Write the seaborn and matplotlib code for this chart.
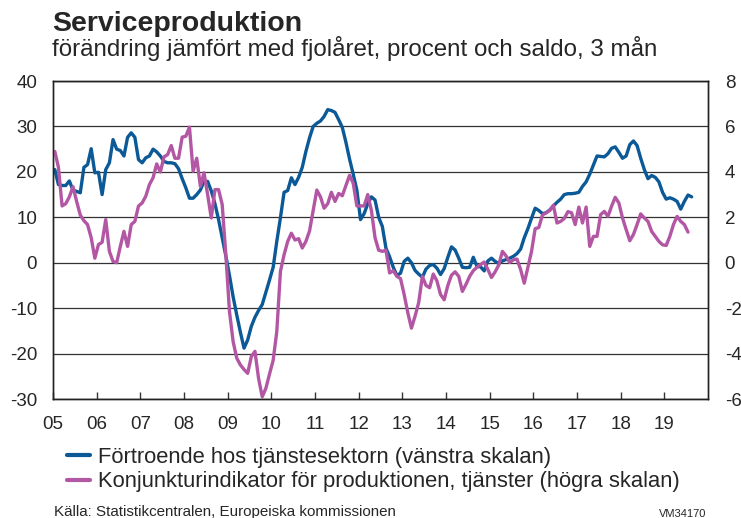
import numpy as np
import pandas as pd
import seaborn as sns
import matplotlib.pyplot as plt
from matplotlib.lines import Line2D

# manadsdata fran januari 2005
# fortroende hos tjanstesektorn (vanstra skalan), saldo
fortroende = [20.5, 17.2, 17.0, 17.0, 18.0, 16.0, 15.7, 15.4, 21.0, 21.6, 25.1, 19.8,
              19.9, 15.0, 20.5, 22.0, 27.1, 25.0, 24.7, 23.5, 27.6, 28.6, 27.6, 22.7,
              22.0, 23.1, 23.5, 25.0, 24.4, 23.5, 22.3, 22.0, 22.0, 21.8, 20.7, 18.5,
              16.5, 14.2, 14.2, 15.0, 16.0, 17.9, 17.9, 15.8, 13.0, 9.5, 5.5, 1.5,
              -2.8, -7.5, -11.5, -15.3, -18.8, -17.0, -14.0, -12.0, -10.5, -9.2, -6.5, -3.8,
              -1.0, 4.7, 9.9, 15.5, 15.9, 18.7, 17.2, 18.8, 21.0, 24.5, 27.5, 30.0,
              30.7, 31.2, 32.2, 33.7, 33.5, 33.1, 31.5, 29.8, 26.5, 22.8, 19.5, 16.0,
              9.5, 10.8, 13.0, 14.5, 13.8, 10.0, 8.0, 3.2, 1.3, -1.0, -2.8, -2.3,
              0.3, 1.0, 0.0, -1.7, -2.5, -3.2, -1.4, -0.6, -0.4, -1.2, -2.6, -1.3,
              1.2, 3.5, 2.8, 1.0, -1.0, -1.1, -1.0, 1.2, -0.8, -0.9, -1.8, 0.4,
              1.0, 0.3, -0.2, 0.4, 0.7, 1.0, 1.4, 2.0, 3.0, 5.5, 7.5, 9.8,
              12.0, 11.5, 10.8, 11.0, 11.6, 12.5, 13.3, 14.0, 15.0, 15.2, 15.2, 15.3,
              15.5, 16.8, 17.8, 19.5, 21.5, 23.5, 23.4, 23.3, 24.0, 25.2, 25.5, 24.3,
              23.0, 23.5, 26.0, 26.8, 25.8, 23.0, 20.5, 18.5, 19.2, 18.8, 17.8, 15.5,
              14.0, 14.3, 14.0, 13.5, 11.8, 13.5, 14.9, 14.5]

# konjunkturindikator for produktionen, tjanster (hogra skalan), procent
konjunktur = [4.9, 4.2, 2.5, 2.6, 2.9, 3.35, 2.7, 2.1, 1.85, 1.68, 1.1, 0.2,
              0.8, 0.9, 1.9, 0.5, 0.06, 0.0, 0.72, 1.38, 0.72, 1.68, 1.82, 2.5,
              2.63, 2.93, 3.44, 3.74, 4.35, 3.99, 4.66, 4.76, 5.16, 4.6, 4.6, 5.53,
              5.57, 5.97, 4.03, 4.6, 3.37, 3.96, 3.0, 1.97, 3.22, 3.22, 2.56, 0.35,
              -2.15, -3.47, -4.2, -4.5, -4.7, -4.87, -4.13, -3.9, -5.1, -5.9, -5.53, -4.9,
              -4.3, -3.03, -0.38, 0.35, 0.94, 1.3, 1.0, 1.06, 0.65, 0.94, 1.4, 2.3,
              3.2, 2.9, 2.4, 2.6, 3.1, 2.7, 3.05, 2.95, 3.4, 3.85, 3.5, 2.5,
              2.5, 2.5, 3.0, 2.3, 1.1, 0.55, 0.5, 0.55, -0.45, -0.35, -0.6, -0.7,
              -1.4, -2.2, -2.88, -2.35, -1.75, -0.6, -1.0, -1.1, -0.5, -0.8, -1.4, -1.63,
              -1.0, -0.55, -0.4, -0.6, -1.26, -0.95, -0.6, -0.35, -0.2, -0.08, 0.03, -0.3,
              -0.65, -0.4, -0.1, 0.5, 0.3, 0.01, 0.13, 0.16, -0.3, -0.9, -0.2, 0.5,
              1.5, 1.55, 2.1, 2.2, 2.3, 2.53, 1.75, 1.82, 1.95, 2.25, 2.2, 1.68,
              2.45, 1.75, 2.45, 0.72, 1.16, 1.16, 2.12, 2.26, 2.04, 2.49, 2.88, 2.63,
              1.97, 1.46, 0.97, 1.24, 1.68, 2.15, 1.97, 1.82, 1.38, 1.16, 0.94, 0.79,
              0.76, 1.16, 1.68, 2.04, 1.82, 1.68, 1.35]

ar = list(range(2005, 2020))
ar_etiketter = ['05', '06', '07', '08', '09', '10', '11', '12', '13', '14',
                '15', '16', '17', '18', '19']
vanster_ticks = [-30, -20, -10, 0, 10, 20, 30, 40]
hoger_ticks = [-6, -4, -2, 0, 2, 4, 6, 8]

namn_bla = 'Förtroende hos tjänstesektorn (vänstra skalan)'
namn_lila = 'Konjunkturindikator för produktionen, tjänster (högra skalan)'

bla = '#0b5996'
lila = '#b356a4'

# tid som decimalar, punkten mitt i manaden
df_bla = pd.DataFrame({'tid': 2005 + (np.arange(len(fortroende)) + 0.5) / 12,
                       'varde': fortroende})
df_lila = pd.DataFrame({'tid': 2005 + (np.arange(len(konjunktur)) + 0.5) / 12,
                        'varde': konjunktur})

sns.set_style('white')
plt.rcParams['font.family'] = ['Liberation Sans', 'DejaVu Sans']
plt.rcParams['axes.unicode_minus'] = False  # vanligt bindestreck som i originalet

fig = plt.figure(figsize=(7.41, 5.18), dpi=100)
ax = fig.add_axes([0.0715, 0.2297, 0.884, 0.6139])
ax2 = ax.twinx()

sns.lineplot(data=df_bla, x='tid', y='varde', ax=ax, color=bla, lw=2.4)
sns.lineplot(data=df_lila, x='tid', y='varde', ax=ax2, color=lila, lw=2.4)

ax.set_xlim(2005, 2020)
ax.set_ylim(-30, 40)
ax2.set_ylim(-6, 8)

ax.set_xticks(ar)
ax.set_xticklabels(ar_etiketter)
ax.set_yticks(vanster_ticks)
ax2.set_yticks(hoger_ticks)
ax.set_xlabel('')
ax.set_ylabel('')
ax2.set_ylabel('')

ax.tick_params(axis='x', direction='in', length=5, width=1, color='#333333',
               labelsize=13.5, pad=12, bottom=True)
ax.tick_params(axis='y', length=0, labelsize=13.5, pad=11.5)
ax2.tick_params(axis='y', length=0, labelsize=13.5, pad=12)

ax.yaxis.grid(True, color='#333333', lw=0.9)
ax.xaxis.grid(False)
ax.set_axisbelow(True)

for a in (ax, ax2):
    for s in a.spines.values():
        s.set_color('#222222')
        s.set_linewidth(1.0)

fig.text(0.071, 0.953, 'Serviceproduktion', fontsize=20.5, fontweight='bold', va='center')
fig.text(0.070, 0.907, 'förändring jämfört med fjolåret, procent och saldo, 3 mån',
         fontsize=17.4, va='center')

handtag = [Line2D([], [], color=bla, lw=3), Line2D([], [], color=lila, lw=3)]
fig.legend(handtag, [namn_bla, namn_lila], loc='upper left',
           bbox_to_anchor=(0.091, 0.137), frameon=False, fontsize=15.8,
           handlelength=1.05, handletextpad=0.35, labelspacing=0.15,
           borderpad=0, borderaxespad=0)

fig.text(0.073, 0.012, 'Källa: Statistikcentralen, Europeiska kommissionen',
         fontsize=10.9, va='center')
fig.text(0.953, 0.008, 'VM34170', fontsize=8, ha='right', va='center')

fig.savefig('out.png', dpi=100)
